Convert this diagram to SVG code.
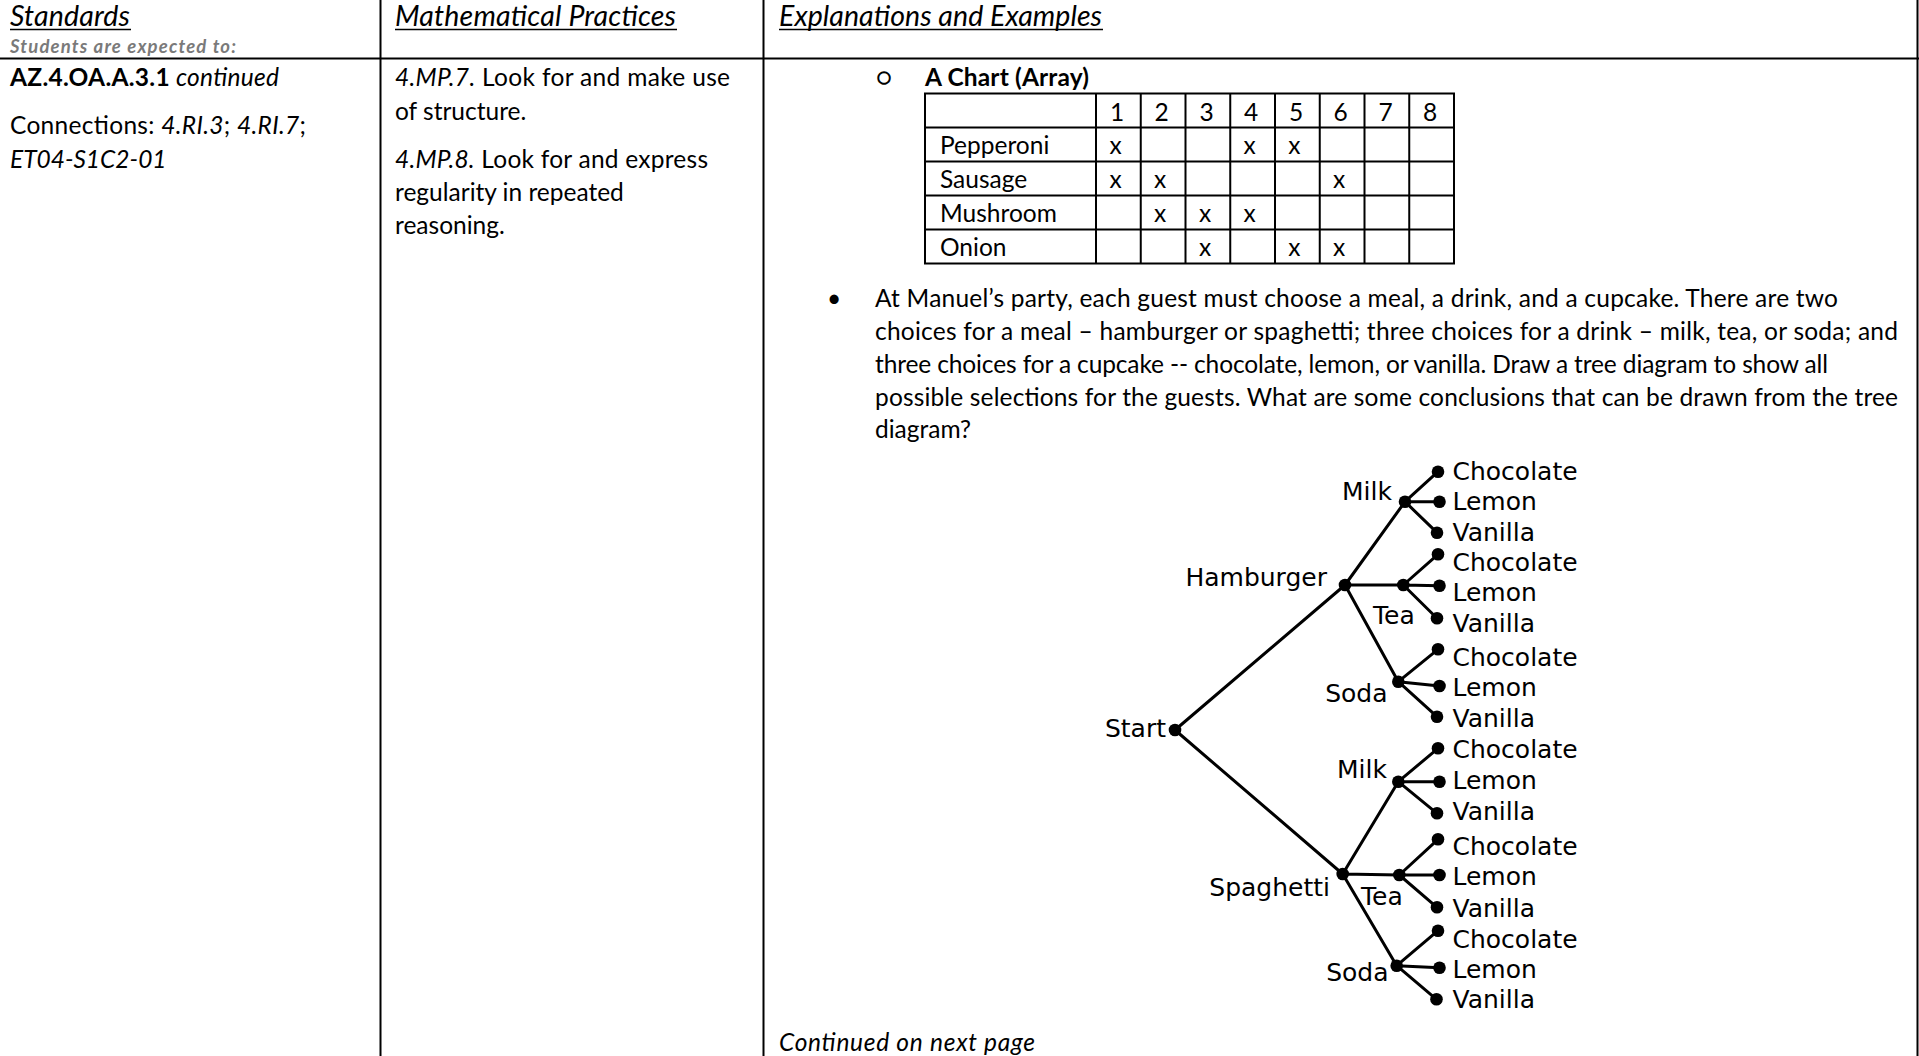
<svg xmlns="http://www.w3.org/2000/svg" width="1919" height="1056" viewBox="0 0 1919 1056">
<style>
.b{font-family:Lato,"Liberation Sans",sans-serif;font-size:24.5px;fill:#000}
.h{font-family:Lato,"Liberation Sans",sans-serif;font-size:28.5px;font-style:italic;fill:#000}
.i{font-style:italic}
.bd{font-weight:bold}
.grid{stroke:#000;stroke-width:2;fill:none}
.rule{stroke:#000;stroke-width:2}
.ul{stroke:#000;stroke-width:1.5}
.t{font-family:"DejaVu Sans",sans-serif;font-size:25px;fill:#000}
.e{stroke:#000;stroke-width:3;fill:none;stroke-linecap:round}
.n{fill:#000}
</style>
<rect x="0" y="0" width="1919" height="1056" fill="#fff"/>
<g id="frame">
<line class="rule" x1="0" y1="58.5" x2="1919" y2="58.5"/>
<line class="rule" x1="380.5" y1="0" x2="380.5" y2="1056"/>
<line class="rule" x1="763.5" y1="0" x2="763.5" y2="1056"/>
<line class="rule" x1="1917.5" y1="0" x2="1917.5" y2="1056"/>
</g>
<g id="headers">
<text class="h" x="10" y="25.5" textLength="120" lengthAdjust="spacing">Standards</text>
<line class="ul" x1="10" y1="29.5" x2="131" y2="29.5"/>
<text x="10" y="53" font-family="Lato,'Liberation Sans',sans-serif" font-size="18.5" font-weight="bold" font-style="italic" fill="#7a7a7a" textLength="226" lengthAdjust="spacing">Students are expected to:</text>
<text class="h" x="395" y="25.5" textLength="281" lengthAdjust="spacing">Mathematical Practices</text>
<line class="ul" x1="395" y1="29.5" x2="677" y2="29.5"/>
<text class="h" x="779" y="25.5" textLength="323" lengthAdjust="spacing">Explanations and Examples</text>
<line class="ul" x1="779" y1="29.5" x2="1103" y2="29.5"/>
</g>
<g id="standards">
<text class="b" x="10" y="86" textLength="269" lengthAdjust="spacing"><tspan class="bd">AZ.4.OA.A.3.1</tspan><tspan class="i"> continued</tspan></text>
<text class="b" x="10" y="134" textLength="296" lengthAdjust="spacing">Connections: <tspan class="i">4.RI.3</tspan>; <tspan class="i">4.RI.7</tspan>;</text>
<text class="b i" x="10" y="168">ET04-S1C2-01</text>
</g>
<g id="practices">
<text class="b" x="395" y="86" textLength="335" lengthAdjust="spacing"><tspan class="i">4.MP.7.</tspan> Look for and make use</text>
<text class="b" x="395" y="119.5">of structure.</text>
<text class="b" x="395" y="168" textLength="313" lengthAdjust="spacing"><tspan class="i">4.MP.8.</tspan> Look for and express</text>
<text class="b" x="395" y="201">regularity in repeated</text>
<text class="b" x="395" y="234">reasoning.</text>
</g>
<g id="chart">
<text class="b" x="876" y="86" font-size="20">○</text>
<text class="b bd" x="925" y="86" textLength="164" lengthAdjust="spacing">A Chart (Array)</text>
<rect class="grid" x="925" y="93.5" width="529" height="170"/>
<path class="grid" d="M925 127.5H1454M925 161.5H1454M925 195.5H1454M925 229.5H1454M1096 93.5V263.5M1140.75 93.5V263.5M1185.5 93.5V263.5M1230.25 93.5V263.5M1275 93.5V263.5M1319.75 93.5V263.5M1364.5 93.5V263.5M1409.25 93.5V263.5"/>
<g class="b" text-anchor="middle">
<text x="1117" y="120.5">1</text><text x="1161.7" y="120.5">2</text><text x="1206.5" y="120.5">3</text><text x="1251.2" y="120.5">4</text><text x="1296" y="120.5">5</text><text x="1340.7" y="120.5">6</text><text x="1385.5" y="120.5">7</text><text x="1430.2" y="120.5">8</text>
<text x="1115.5" y="154">x</text><text x="1249.6" y="154">x</text><text x="1294.4" y="154">x</text>
<text x="1115.5" y="188">x</text><text x="1160.2" y="188">x</text><text x="1339.1" y="188">x</text>
<text x="1160.2" y="222">x</text><text x="1205" y="222">x</text><text x="1249.6" y="222">x</text>
<text x="1205" y="256">x</text><text x="1294.4" y="256">x</text><text x="1339.1" y="256">x</text>
</g>
<text class="b" x="940" y="154">Pepperoni</text>
<text class="b" x="940" y="188">Sausage</text>
<text class="b" x="940" y="222">Mushroom</text>
<text class="b" x="940" y="256">Onion</text>
</g>
<g id="problem">
<text class="b" x="827" y="307">•</text>
<text class="b" x="875" y="307" textLength="963" lengthAdjust="spacing">At Manuel’s party, each guest must choose a meal, a drink, and a cupcake. There are two</text>
<text class="b" x="875" y="340" textLength="1023" lengthAdjust="spacing">choices for a meal – hamburger or spaghetti; three choices for a drink – milk, tea, or soda; and</text>
<text class="b" x="875" y="372.5" textLength="953" lengthAdjust="spacing">three choices for a cupcake -- chocolate, lemon, or vanilla. Draw a tree diagram to show all</text>
<text class="b" x="875" y="405.5" textLength="1023" lengthAdjust="spacing">possible selections for the guests. What are some conclusions that can be drawn from the tree</text>
<text class="b" x="875" y="438">diagram?</text>
</g>
<g id="connectors" class="e">
<path d="M1175 730L1345 585M1175 730L1342.7 874"/>
<path d="M1345 585L1405 501.7M1345 585L1403.3 585M1345 585L1398.3 681.7"/>
<path d="M1405 501.7L1438 471.7M1405 501.7L1439.5 501.7M1405 501.7L1437 532.7"/>
<path d="M1403.3 585L1438 554.3M1403.3 585L1439.5 585.7M1403.3 585L1437 618.3"/>
<path d="M1398.3 681.7L1438 649.3M1398.3 681.7L1439.5 686M1398.3 681.7L1437 716.7"/>
<path d="M1342.7 874L1398.3 781.7M1342.7 874L1399.3 875M1342.7 874L1396.7 965.7"/>
<path d="M1398.3 781.7L1438 748.3M1398.3 781.7L1439.5 781.7M1398.3 781.7L1437 813.3"/>
<path d="M1399.3 875L1438 839.3M1399.3 875L1439.5 875M1399.3 875L1437 907.3"/>
<path d="M1396.7 965.7L1438 930.7M1396.7 965.7L1439.5 967.7M1396.7 965.7L1436.5 999.3"/>
</g>
<g id="node-start"><circle class="n" cx="1175" cy="730" r="6.3"/><text class="t" x="1166" y="737" text-anchor="end">Start</text></g>
<g id="node-hamburger"><circle class="n" cx="1345" cy="585" r="6.3"/><text class="t" x="1327" y="586" text-anchor="end">Hamburger</text></g>
<g id="node-spaghetti"><circle class="n" cx="1342.7" cy="874" r="6.3"/><text class="t" x="1330" y="896" text-anchor="end">Spaghetti</text></g>
<g id="node-h-milk"><circle class="n" cx="1405" cy="501.7" r="6.3"/><text class="t" x="1392" y="499.5" text-anchor="end">Milk</text></g>
<g id="node-h-tea"><circle class="n" cx="1403.3" cy="585" r="6.3"/><text class="t" x="1373" y="623.5">Tea</text></g>
<g id="node-h-soda"><circle class="n" cx="1398.3" cy="681.7" r="6.3"/><text class="t" x="1387.5" y="702" text-anchor="end">Soda</text></g>
<g id="node-s-milk"><circle class="n" cx="1398.3" cy="781.7" r="6.3"/><text class="t" x="1387" y="777.5" text-anchor="end">Milk</text></g>
<g id="node-s-tea"><circle class="n" cx="1399.3" cy="875" r="6.3"/><text class="t" x="1361" y="905">Tea</text></g>
<g id="node-s-soda"><circle class="n" cx="1396.7" cy="965.7" r="6.3"/><text class="t" x="1388.5" y="981" text-anchor="end">Soda</text></g>
<g id="leaf-hm-choc"><circle class="n" cx="1438" cy="471.7" r="6.3"/><text class="t" x="1452.5" y="479.5">Chocolate</text></g>
<g id="leaf-hm-lemon"><circle class="n" cx="1439.5" cy="501.7" r="6.3"/><text class="t" x="1452.5" y="510">Lemon</text></g>
<g id="leaf-hm-van"><circle class="n" cx="1437" cy="532.7" r="6.3"/><text class="t" x="1452.5" y="540.5">Vanilla</text></g>
<g id="leaf-ht-choc"><circle class="n" cx="1438" cy="554.3" r="6.3"/><text class="t" x="1452.5" y="570.5">Chocolate</text></g>
<g id="leaf-ht-lemon"><circle class="n" cx="1439.5" cy="585.7" r="6.3"/><text class="t" x="1452.5" y="601">Lemon</text></g>
<g id="leaf-ht-van"><circle class="n" cx="1437" cy="618.3" r="6.3"/><text class="t" x="1452.5" y="631.5">Vanilla</text></g>
<g id="leaf-hs-choc"><circle class="n" cx="1438" cy="649.3" r="6.3"/><text class="t" x="1452.5" y="666">Chocolate</text></g>
<g id="leaf-hs-lemon"><circle class="n" cx="1439.5" cy="686" r="6.3"/><text class="t" x="1452.5" y="696">Lemon</text></g>
<g id="leaf-hs-van"><circle class="n" cx="1437" cy="716.7" r="6.3"/><text class="t" x="1452.5" y="727">Vanilla</text></g>
<g id="leaf-sm-choc"><circle class="n" cx="1438" cy="748.3" r="6.3"/><text class="t" x="1452.5" y="757.5">Chocolate</text></g>
<g id="leaf-sm-lemon"><circle class="n" cx="1439.5" cy="781.7" r="6.3"/><text class="t" x="1452.5" y="789">Lemon</text></g>
<g id="leaf-sm-van"><circle class="n" cx="1437" cy="813.3" r="6.3"/><text class="t" x="1452.5" y="820">Vanilla</text></g>
<g id="leaf-st-choc"><circle class="n" cx="1438" cy="839.3" r="6.3"/><text class="t" x="1452.5" y="855">Chocolate</text></g>
<g id="leaf-st-lemon"><circle class="n" cx="1439.5" cy="875" r="6.3"/><text class="t" x="1452.5" y="885">Lemon</text></g>
<g id="leaf-st-van"><circle class="n" cx="1437" cy="907.3" r="6.3"/><text class="t" x="1452.5" y="916.5">Vanilla</text></g>
<g id="leaf-ss-choc"><circle class="n" cx="1438" cy="930.7" r="6.3"/><text class="t" x="1452.5" y="948">Chocolate</text></g>
<g id="leaf-ss-lemon"><circle class="n" cx="1439.5" cy="967.7" r="6.3"/><text class="t" x="1452.5" y="977.5">Lemon</text></g>
<g id="leaf-ss-van"><circle class="n" cx="1436.5" cy="999.3" r="6.3"/><text class="t" x="1452.5" y="1008">Vanilla</text></g>
<g id="footer"><text class="b i" x="779" y="1051" textLength="256" lengthAdjust="spacing">Continued on next page</text></g>
</svg>
